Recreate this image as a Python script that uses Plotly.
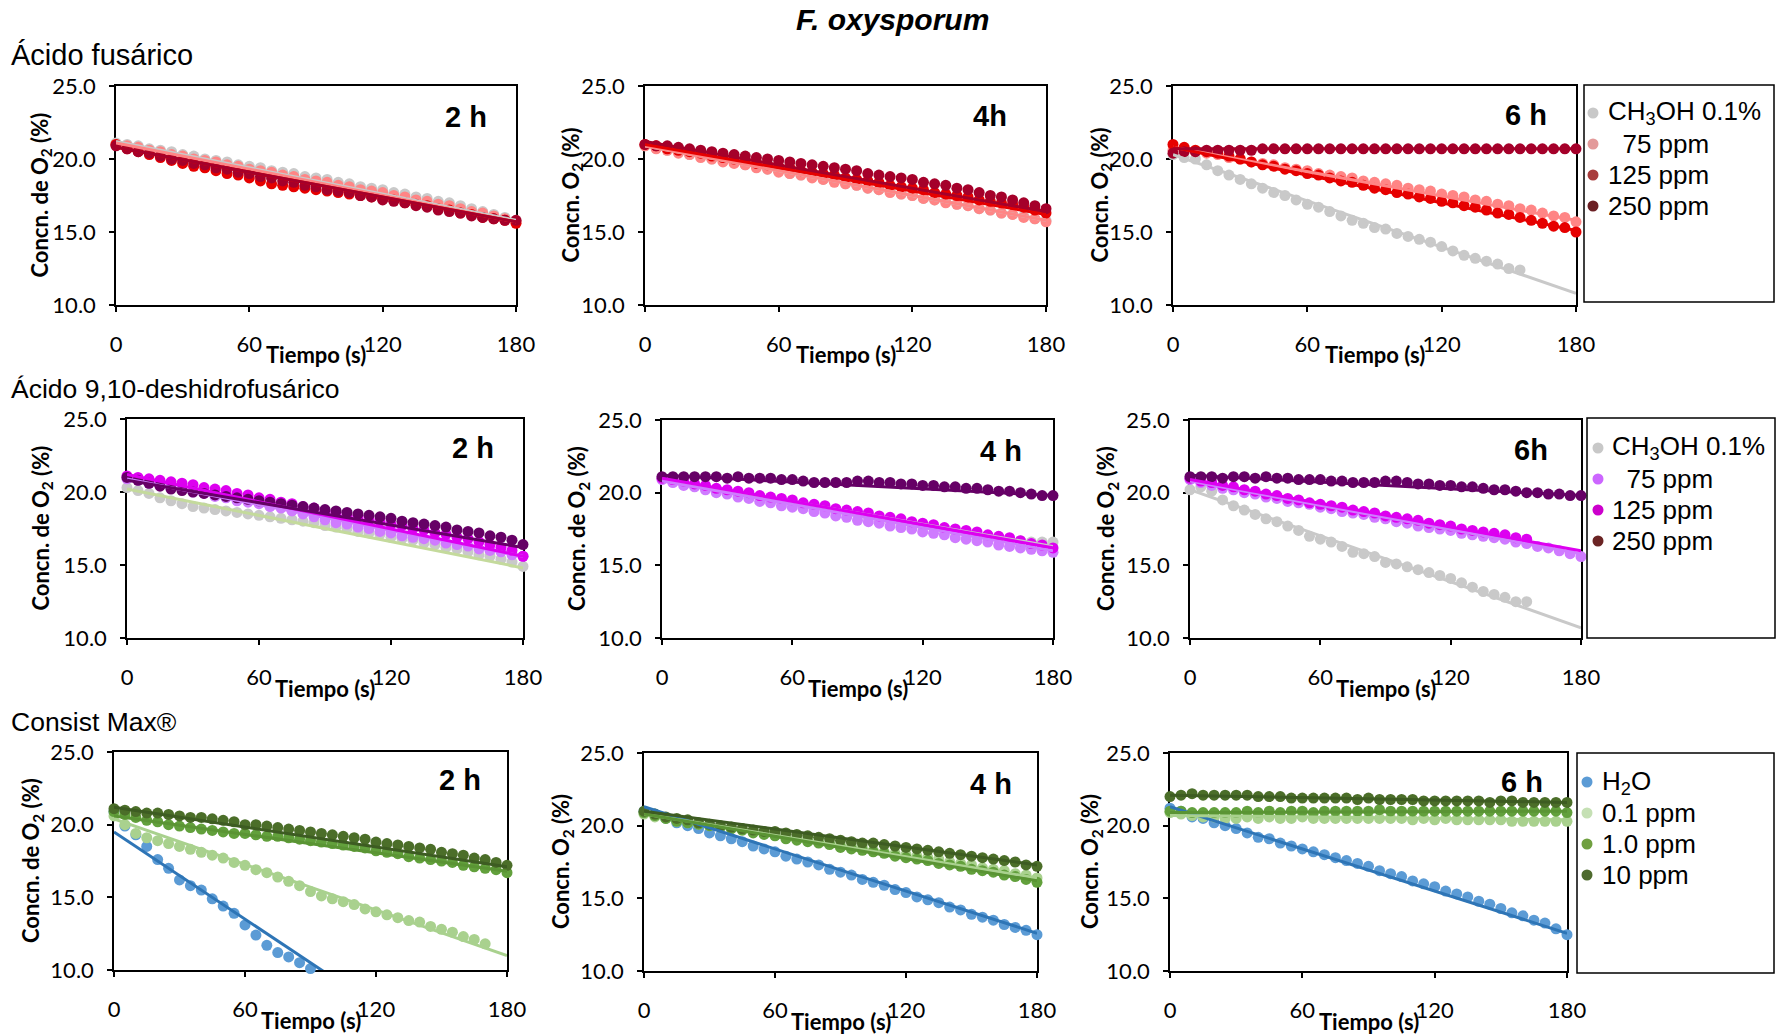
import plotly.graph_objects as go

W, H = 1777, 1035

# Sampling times (s) and axis ticks
t = list(range(0, 181, 5))
x_ticks = [0, 60, 120, 180]
y_ticks = [10, 15, 20, 25]

# ---------------- Ácido fusárico ----------------
fa2_ch3oh = [21.1, 21.0, 20.9, 20.7, 20.6, 20.5, 20.3, 20.2, 20.0, 19.9, 19.8, 19.6, 19.5, 19.4, 19.2, 19.1, 19.0, 18.8, 18.7,
             18.6, 18.4, 18.3, 18.1, 18.0, 17.9, 17.7, 17.6, 17.4, 17.3, 17.1, 17.0, 16.8, 16.6, 16.4, 16.2, 16.0, 15.8]
fa2_75 = [21.0, 20.9, 20.8, 20.6, 20.5, 20.3, 20.2, 20.0, 19.9, 19.8, 19.6, 19.5, 19.3, 19.2, 19.1, 18.9, 18.8, 18.6, 18.5,
          18.4, 18.2, 18.1, 17.9, 17.8, 17.7, 17.5, 17.4, 17.2, 17.1, 16.9, 16.8, 16.6, 16.4, 16.3, 16.1, 15.9, 15.7]
fa2_125 = [21.0, 20.7, 20.5, 20.3, 20.1, 19.9, 19.7, 19.5, 19.4, 19.2, 19.0, 18.9, 18.7, 18.5, 18.3, 18.2, 18.1, 18.0, 17.9,
           17.8, 17.7, 17.6, 17.5, 17.4, 17.3, 17.2, 17.0, 16.9, 16.8, 16.6, 16.5, 16.3, 16.2, 16.0, 15.9, 15.8, 15.6]
fa2_250 = [20.9, 20.7, 20.5, 20.4, 20.2, 20.0, 19.9, 19.7, 19.6, 19.4, 19.3, 19.1, 19.0, 18.8, 18.7, 18.5, 18.4, 18.2, 18.1,
           17.9, 17.8, 17.7, 17.5, 17.4, 17.2, 17.1, 17.0, 16.8, 16.7, 16.5, 16.4, 16.3, 16.1, 16.0, 15.9, 15.8, 15.8]
fa2_fits = [[21.2, 15.8], [21.1, 15.7], [20.8, 15.7], [20.8, 15.7]]

fa4_ch3oh = [20.9, 20.8, 20.6, 20.5, 20.3, 20.2, 20.0, 19.9, 19.8, 19.6, 19.5, 19.3, 19.2, 19.0, 18.9, 18.8, 18.6, 18.5, 18.3,
             18.2, 18.0, 17.9, 17.8, 17.6, 17.5, 17.3, 17.2, 17.1, 16.9, 16.8, 16.6, 16.5, 16.3, 16.2, 16.1, 15.9, 15.8]
fa4_75 = [20.9, 20.7, 20.6, 20.4, 20.3, 20.1, 20.0, 19.8, 19.7, 19.6, 19.4, 19.3, 19.1, 19.0, 18.9, 18.7, 18.6, 18.4, 18.3,
          18.2, 18.0, 17.9, 17.7, 17.6, 17.5, 17.3, 17.2, 17.0, 16.9, 16.8, 16.6, 16.5, 16.3, 16.2, 16.0, 15.9, 15.7]
fa4_125 = [21.0, 20.9, 20.7, 20.6, 20.5, 20.4, 20.2, 20.1, 20.0, 19.9, 19.7, 19.6, 19.5, 19.4, 19.2, 19.1, 19.0, 18.9, 18.7,
           18.6, 18.5, 18.4, 18.2, 18.1, 18.0, 17.9, 17.7, 17.6, 17.5, 17.4, 17.2, 17.1, 17.0, 16.9, 16.7, 16.5, 16.3]
fa4_250 = [21.0, 20.9, 20.9, 20.8, 20.7, 20.6, 20.5, 20.4, 20.3, 20.2, 20.1, 20.0, 19.9, 19.8, 19.7, 19.6, 19.5, 19.4, 19.3,
           19.2, 19.0, 18.9, 18.8, 18.7, 18.6, 18.4, 18.3, 18.2, 18.0, 17.9, 17.7, 17.5, 17.4, 17.2, 17.0, 16.8, 16.6]
fa4_fits = [[20.9, 15.8], [20.9, 15.8], [21.0, 16.2], [21.2, 16.4]]

fa6_ch3oh = [20.3, 20.1, 20.0, 19.6, 19.2, 18.9, 18.6, 18.3, 18.0, 17.7, 17.5, 17.2, 16.9, 16.7, 16.4, 16.1, 15.8, 15.6, 15.3,
             15.2, 14.9, 14.7, 14.5, 14.3, 14.0, 13.7, 13.4, 13.2, 13.0, 12.8, 12.5, 12.4]
fa6_75 = [20.6, 20.6, 20.5, 20.4, 20.3, 20.1, 20.0, 19.8, 19.7, 19.6, 19.4, 19.3, 19.2, 19.0, 18.9, 18.8, 18.7, 18.5, 18.4,
          18.3, 18.2, 18.0, 17.9, 17.8, 17.6, 17.5, 17.4, 17.2, 17.1, 16.9, 16.8, 16.6, 16.5, 16.3, 16.1, 16.0, 15.7]
fa6_125 = [21.0, 20.8, 20.6, 20.5, 20.4, 20.2, 20.0, 19.8, 19.6, 19.5, 19.3, 19.2, 19.0, 18.9, 18.7, 18.5, 18.4, 18.2, 18.0,
           17.9, 17.7, 17.6, 17.4, 17.3, 17.1, 17.0, 16.8, 16.7, 16.5, 16.3, 16.2, 16.0, 15.8, 15.6, 15.4, 15.3, 15.0]
fa6_250 = [20.4, 20.5, 20.5, 20.6, 20.6, 20.6, 20.6, 20.6, 20.7, 20.7, 20.7, 20.7, 20.7, 20.7, 20.7, 20.7, 20.7, 20.7, 20.7,
           20.7, 20.7, 20.7, 20.7, 20.7, 20.7, 20.7, 20.7, 20.7, 20.7, 20.7, 20.7, 20.7, 20.7, 20.7, 20.7, 20.7, 20.7]
fa6_fits = [[20.3, 10.8], [20.8, 15.8], [20.8, 15.1], [20.7, 20.7]]

# ---------------- Ácido 9,10-deshidrofusárico ----------------
dh2_ch3oh = [20.3, 20.1, 19.9, 19.6, 19.4, 19.2, 19.0, 18.9, 18.8, 18.7, 18.6, 18.5, 18.4, 18.3, 18.2, 18.1, 18.0, 17.9, 17.7,
             17.6, 17.5, 17.3, 17.2, 17.1, 16.9, 16.8, 16.7, 16.5, 16.4, 16.2, 16.1, 15.9, 15.7, 15.6, 15.4, 15.2, 14.9]
dh2_75 = [20.9, 20.8, 20.6, 20.5, 20.3, 20.2, 20.0, 19.9, 19.7, 19.6, 19.4, 19.3, 19.2, 19.0, 18.9, 18.7, 18.5, 18.3, 18.1,
          17.9, 17.8, 17.6, 17.5, 17.3, 17.2, 17.0, 16.9, 16.8, 16.7, 16.5, 16.4, 16.3, 16.1, 16.0, 15.9, 15.7, 15.6]
dh2_125 = [21.1, 21.0, 20.9, 20.8, 20.7, 20.6, 20.5, 20.3, 20.2, 20.1, 19.9, 19.8, 19.6, 19.5, 19.3, 19.2, 19.0, 18.9, 18.7,
           18.6, 18.4, 18.3, 18.1, 18.0, 17.8, 17.7, 17.5, 17.4, 17.2, 17.1, 16.9, 16.8, 16.6, 16.4, 16.2, 16.0, 15.6]
dh2_250 = [21.0, 20.8, 20.6, 20.4, 20.2, 20.1, 20.0, 19.9, 19.8, 19.7, 19.6, 19.5, 19.4, 19.3, 19.2, 19.1, 19.0, 18.9, 18.8,
           18.7, 18.6, 18.5, 18.4, 18.3, 18.2, 18.0, 17.9, 17.8, 17.7, 17.6, 17.4, 17.3, 17.2, 17.0, 16.9, 16.7, 16.4]
dh2_fits = [[20.2, 14.8], [20.9, 15.6], [21.2, 15.6], [20.8, 16.2]]

dh4_ch3oh = [21.0, 20.8, 20.7, 20.5, 20.4, 20.2, 20.1, 20.0, 19.8, 19.7, 19.5, 19.4, 19.3, 19.1, 19.0, 18.9, 18.7, 18.6, 18.5,
             18.3, 18.2, 18.1, 17.9, 17.8, 17.7, 17.6, 17.4, 17.3, 17.2, 17.1, 17.0, 16.9, 16.8, 16.7, 16.6, 16.6, 16.6]
dh4_75 = [20.9, 20.7, 20.5, 20.4, 20.2, 20.0, 19.9, 19.7, 19.6, 19.4, 19.3, 19.1, 19.0, 18.9, 18.7, 18.6, 18.4, 18.3, 18.1,
          18.0, 17.9, 17.7, 17.6, 17.5, 17.3, 17.2, 17.1, 16.9, 16.8, 16.7, 16.6, 16.4, 16.3, 16.2, 16.1, 16.0, 15.9]
dh4_125 = [21.0, 20.9, 20.8, 20.6, 20.5, 20.3, 20.2, 20.1, 20.0, 19.8, 19.7, 19.6, 19.5, 19.3, 19.2, 19.1, 18.9, 18.8, 18.7,
           18.6, 18.4, 18.3, 18.2, 18.0, 17.9, 17.8, 17.6, 17.5, 17.4, 17.3, 17.1, 17.0, 16.9, 16.7, 16.5, 16.4, 16.2]
dh4_250 = [21.1, 21.1, 21.1, 21.1, 21.1, 21.1, 21.0, 21.1, 21.0, 21.0, 21.0, 20.9, 20.9, 20.8, 20.7, 20.7, 20.7, 20.7, 20.8,
           20.8, 20.7, 20.7, 20.6, 20.6, 20.5, 20.5, 20.4, 20.4, 20.3, 20.3, 20.2, 20.1, 20.1, 20.0, 19.9, 19.8, 19.8]
dh4_fits = [[20.9, 16.3], [20.8, 16.0], [21.0, 16.2], [21.2, 19.8]]

dh6_ch3oh = [20.2, 20.4, 20.1, 19.5, 19.1, 18.8, 18.5, 18.2, 18.0, 17.7, 17.4, 17.0, 16.8, 16.6, 16.3, 15.9, 15.8, 15.6, 15.2,
             15.1, 14.9, 14.7, 14.5, 14.3, 14.1, 13.8, 13.5, 13.2, 13.0, 12.8, 12.5, 12.5]
dh6_75 = [20.9, 20.7, 20.5, 20.3, 20.2, 20.0, 19.9, 19.7, 19.6, 19.4, 19.3, 19.2, 19.0, 18.9, 18.7, 18.6, 18.5, 18.3, 18.2,
          18.0, 17.9, 17.7, 17.6, 17.5, 17.4, 17.2, 17.1, 17.0, 16.9, 16.8, 16.6, 16.5, 16.3, 16.2, 16.0, 15.8, 15.6]
dh6_125 = [21.0, 20.8, 20.7, 20.5, 20.4, 20.2, 20.1, 19.9, 19.8, 19.6, 19.5, 19.3, 19.2, 19.1, 19.0, 18.8, 18.7, 18.6, 18.4,
           18.3, 18.2, 18.1, 17.9, 17.8, 17.7, 17.5, 17.4, 17.3, 17.2, 17.1, 16.9, 16.8]
dh6_250 = [21.1, 21.1, 21.1, 21.0, 21.1, 21.1, 21.0, 21.1, 21.0, 21.0, 20.9, 20.9, 20.9, 20.8, 20.8, 20.7, 20.7, 20.7, 20.8,
           20.8, 20.7, 20.6, 20.6, 20.5, 20.5, 20.4, 20.4, 20.3, 20.2, 20.2, 20.1, 20.0, 20.0, 19.9, 19.9, 19.8, 19.8]
dh6_fits = [[20.2, 10.7], [20.8, 15.8], [20.9, 16.0], [21.2, 19.8]]

# ---------------- Consist Max® ----------------
cm2_h2o = [20.9, 19.9, 19.3, 18.5, 17.6, 17.0, 16.2, 15.8, 15.5, 14.9, 14.4, 13.9, 13.1, 12.4, 11.7, 11.2, 10.9, 10.5, 10.1]
cm2_01 = [20.6, 20.0, 19.4, 19.1, 18.9, 18.7, 18.5, 18.3, 18.1, 17.9, 17.7, 17.4, 17.2, 16.9, 16.7, 16.4, 16.1, 15.8, 15.4,
          15.1, 14.9, 14.7, 14.5, 14.2, 14.0, 13.8, 13.6, 13.4, 13.3, 13.0, 12.8, 12.6, 12.3, 12.1, 11.8]
cm2_1 = [20.9, 20.7, 20.5, 20.3, 20.2, 20.0, 19.9, 19.8, 19.7, 19.6, 19.5, 19.4, 19.4, 19.3, 19.2, 19.2, 19.1, 19.0, 18.9,
         18.8, 18.7, 18.6, 18.5, 18.4, 18.2, 18.1, 18.0, 17.8, 17.7, 17.6, 17.5, 17.4, 17.2, 17.1, 17.0, 16.9, 16.7]
cm2_10 = [21.1, 21.0, 20.9, 20.8, 20.8, 20.7, 20.6, 20.5, 20.5, 20.4, 20.3, 20.2, 20.0, 20.0, 19.9, 19.8, 19.7, 19.6, 19.5,
          19.4, 19.3, 19.2, 19.1, 19.0, 18.8, 18.7, 18.6, 18.5, 18.4, 18.3, 18.1, 18.0, 17.9, 17.7, 17.6, 17.4, 17.2]
cm2_fits = [[19.5, 1.5], [20.4, 11.0], [20.6, 16.8], [21.2, 17.1]]

cm4_h2o = [21.0, 20.8, 20.5, 20.2, 20.0, 19.8, 19.5, 19.3, 19.1, 18.9, 18.6, 18.4, 18.2, 17.9, 17.7, 17.5, 17.3, 17.0, 16.8,
           16.6, 16.3, 16.1, 15.9, 15.6, 15.4, 15.1, 14.9, 14.7, 14.4, 14.2, 13.9, 13.7, 13.5, 13.2, 13.0, 12.8, 12.5]
cm4_01 = [20.8, 20.6, 20.5, 20.3, 20.2, 20.1, 20.0, 19.9, 19.8, 19.7, 19.6, 19.5, 19.4, 19.3, 19.1, 19.0, 18.9, 18.8, 18.7,
          18.6, 18.5, 18.3, 18.2, 18.1, 18.0, 17.9, 17.8, 17.7, 17.5, 17.4, 17.3, 17.1, 17.0, 16.9, 16.7, 16.6, 16.4]
cm4_1 = [20.9, 20.7, 20.5, 20.3, 20.2, 20.1, 20.0, 19.9, 19.8, 19.7, 19.5, 19.4, 19.3, 19.1, 19.0, 18.9, 18.8, 18.7, 18.5,
         18.4, 18.3, 18.2, 18.1, 17.9, 17.8, 17.7, 17.6, 17.4, 17.3, 17.2, 17.0, 16.9, 16.8, 16.6, 16.5, 16.3, 16.1]
cm4_10 = [21.0, 20.8, 20.6, 20.5, 20.4, 20.2, 20.1, 20.0, 19.9, 19.8, 19.7, 19.6, 19.6, 19.5, 19.4, 19.3, 19.2, 19.1, 19.0,
          18.9, 18.8, 18.8, 18.7, 18.6, 18.5, 18.4, 18.3, 18.2, 18.1, 18.0, 17.9, 17.8, 17.7, 17.6, 17.5, 17.3, 17.2]
cm4_fits = [[21.3, 12.6], [20.8, 16.4], [20.8, 16.2], [21.0, 17.3]]

cm6_h2o = [21.2, 21.0, 20.6, 20.5, 20.2, 20.0, 19.8, 19.5, 19.2, 19.1, 18.8, 18.6, 18.4, 18.2, 18.0, 17.8, 17.6, 17.4, 17.2,
           16.9, 16.7, 16.5, 16.2, 16.0, 15.8, 15.5, 15.3, 15.1, 14.8, 14.6, 14.3, 14.0, 13.8, 13.5, 13.3, 12.9, 12.5]
cm6_01 = [20.9, 20.8, 20.7, 20.6, 20.6, 20.5, 20.5, 20.6, 20.5, 20.6, 20.5, 20.5, 20.6, 20.5, 20.5, 20.5, 20.5, 20.5, 20.5,
          20.5, 20.5, 20.5, 20.4, 20.5, 20.4, 20.5, 20.4, 20.4, 20.4, 20.4, 20.4, 20.3, 20.3, 20.3, 20.3, 20.3, 20.3]
cm6_1 = [21.0, 21.0, 20.9, 20.9, 20.9, 20.9, 20.9, 21.0, 20.9, 21.0, 20.9, 21.0, 21.0, 20.9, 21.0, 21.0, 21.0, 21.0, 21.0,
         21.1, 21.0, 21.0, 21.0, 21.0, 21.0, 21.0, 21.0, 21.0, 21.0, 21.0, 21.0, 21.0, 21.0, 21.0, 21.0, 21.0, 20.9]
cm6_10 = [22.0, 22.1, 22.2, 22.1, 22.1, 22.1, 22.1, 22.1, 22.0, 22.0, 22.0, 21.9, 21.9, 21.9, 21.9, 21.9, 21.9, 21.8, 21.9,
          21.8, 21.8, 21.8, 21.8, 21.7, 21.7, 21.7, 21.7, 21.7, 21.7, 21.6, 21.7, 21.7, 21.6, 21.6, 21.6, 21.6, 21.6]
cm6_fits = [[21.3, 12.6], [20.7, 20.4], [20.9, 21.0], [22.1, 21.6]]

# Key labels per block
fa_labels = ["CH<sub>3</sub>OH 0.1%", "\u00a0\u00a075 ppm", "125 ppm", "250 ppm"]
dh_labels = ["CH<sub>3</sub>OH 0.1%", "\u00a0\u00a075 ppm", "125 ppm", "250 ppm"]
cm_labels = ["H<sub>2</sub>O", "0.1 ppm", "1.0 ppm", "10 ppm"]

# ---------------- styling ----------------
SANS = "Liberation Sans, Arial, sans-serif"
TICKF = "Lato, Liberation Sans, sans-serif"

fa_pt = ["#C9C9C9", "#FF8585", "#E60000", "#A5002A"]
fa_ln = ["#C9C9C9", "#FF8585", "#E60000", "#A5002A"]
fa_key = ["#C8C8C8", "#E39A9A", "#A83C3C", "#6B1F24"]

dh_pt = ["#C9C9C9", "#CF7BFF", "#DD00F0", "#660066"]
dh_key = ["#C8C8C8", "#CC66FF", "#CC00CC", "#6B2424"]

cm_pt = ["#5B9BD5", "#A9D18E", "#62A03C", "#4B6E29"]
cm_ln = ["#2E75B6", "#A9D18E", "#5A9434", "#3D5C22"]
cm_key = ["#5B9BD5", "#C5E0B4", "#70A040", "#4E6B2E"]


def fx(px):
    return px / W


def fy(py):
    return 1 - py / H


# panel pixel boxes: (left, right, top, bottom)
panels = [
    dict(box=(116, 516, 86, 305), series=[fa2_ch3oh, fa2_75, fa2_125, fa2_250], fits=fa2_fits,
         pt=fa_pt, ln=fa_ln, tag="2 h", tag_xy=(466, 117), ytitle="Concn. de O<sub>2</sub> (%)", yoff=76),
    dict(box=(645, 1046, 86, 305), series=[fa4_ch3oh, fa4_75, fa4_125, fa4_250], fits=fa4_fits,
         pt=fa_pt, ln=fa_ln, tag="4h", tag_xy=(990, 116), ytitle="Concn. O<sub>2</sub> (%)", yoff=74),
    dict(box=(1173, 1576, 86, 305), series=[fa6_ch3oh, fa6_75, fa6_125, fa6_250], fits=fa6_fits,
         pt=fa_pt, ln=fa_ln, tag="6 h", tag_xy=(1526, 115), ytitle="Concn. O<sub>2</sub> (%)", yoff=73),
    dict(box=(127, 523, 419, 638), series=[dh2_ch3oh, dh2_75, dh2_125, dh2_250], fits=dh2_fits,
         pt=dh_pt, ln=["#C4DA9C", "#CF7BFF", "#DD00F0", "#660066"], tag="2 h", tag_xy=(473, 448),
         ytitle="Concn. de O<sub>2</sub> (%)", yoff=86),
    dict(box=(662, 1053, 420, 638), series=[dh4_ch3oh, dh4_75, dh4_125, dh4_250], fits=dh4_fits,
         pt=dh_pt, ln=["#C9C9C9", "#CF7BFF", "#DD00F0", "#660066"], tag="4 h", tag_xy=(1001, 451),
         ytitle="Concn. de O<sub>2</sub> (%)", yoff=84),
    dict(box=(1190, 1581, 420, 638), series=[dh6_ch3oh, dh6_75, dh6_125, dh6_250], fits=dh6_fits,
         pt=dh_pt, ln=["#C9C9C9", "#CF7BFF", "#DD00F0", "#660066"], tag="6h", tag_xy=(1531, 450),
         ytitle="Concn. de O<sub>2</sub> (%)", yoff=83),
    dict(box=(114, 507, 752, 970), series=[cm2_h2o, cm2_01, cm2_1, cm2_10], fits=cm2_fits,
         pt=cm_pt, ln=cm_ln, tag="2 h", tag_xy=(460, 780), ytitle="Concn. de O<sub>2</sub> (%)", yoff=82),
    dict(box=(644, 1037, 753, 971), series=[cm4_h2o, cm4_01, cm4_1, cm4_10], fits=cm4_fits,
         pt=cm_pt, ln=cm_ln, tag="4 h", tag_xy=(991, 784), ytitle="Concn. O<sub>2</sub> (%)", yoff=82),
    dict(box=(1170, 1567, 753, 971), series=[cm6_h2o, cm6_01, cm6_1, cm6_10], fits=cm6_fits,
         pt=cm_pt, ln=cm_ln, tag="6 h", tag_xy=(1522, 782), ytitle="Concn. O<sub>2</sub> (%)", yoff=79),
]

fig = go.Figure()
annotations = []
shapes = []
layout_axes = {}

axis_common = dict(
    ticks="outside", ticklen=5, tickwidth=1.5, tickcolor="black",
    showline=True, linecolor="black", linewidth=1.5, mirror=True,
    showgrid=False, zeroline=False, layer="below traces", automargin=False,
    tickfont=dict(family=TICKF, size=22, color="black"),
)

for i, p in enumerate(panels):
    n = "" if i == 0 else str(i + 1)
    xa, ya = "x" + n, "y" + n
    left, right, top, bottom = p["box"]
    layout_axes["xaxis" + n] = dict(
        domain=[fx(left), fx(right)], range=[0, 180], anchor=ya, tickvals=x_ticks,
        ticklabelstandoff=14, **axis_common,
    )
    layout_axes["yaxis" + n] = dict(
        domain=[fy(bottom), fy(top)], range=[10, 25], anchor=xa, tickvals=y_ticks, tickformat=".1f",
        ticklabelstandoff=9, **axis_common,
    )

    # measured points
    for vals, col in zip(p["series"], p["pt"]):
        fig.add_trace(go.Scatter(
            x=t[:len(vals)], y=vals, mode="markers", xaxis=xa, yaxis=ya,
            marker=dict(color=col, size=11, line=dict(width=0)),
            cliponaxis=False, showlegend=False, hoverinfo="skip",
        ))
    # linear trend lines
    for fit, col in zip(p["fits"], p["ln"]):
        fig.add_trace(go.Scatter(
            x=[0, 180], y=fit, mode="lines", xaxis=xa, yaxis=ya,
            line=dict(color=col, width=3), showlegend=False, hoverinfo="skip",
        ))

    # panel time tag
    annotations.append(dict(
        x=fx(p["tag_xy"][0]), y=fy(p["tag_xy"][1]), xref="paper", yref="paper",
        text="<b>%s</b>" % p["tag"], showarrow=False, xanchor="center", yanchor="middle",
        font=dict(family=SANS, size=29, color="black"),
    ))
    # axis titles
    annotations.append(dict(
        x=fx((left + right) / 2), y=fy(bottom + 50), xref="paper", yref="paper",
        text="<b>Tiempo (s)</b>", showarrow=False, xanchor="center", yanchor="middle",
        font=dict(family=TICKF, size=22, color="black"),
    ))
    annotations.append(dict(
        x=fx(left - p["yoff"]), y=fy((top + bottom) / 2), xref="paper", yref="paper",
        text="<b>%s</b>" % p["ytitle"], showarrow=False, xanchor="center", yanchor="middle",
        textangle=-90, font=dict(family=TICKF, size=22, color="black"),
    ))

# boxed keys: frame, marker column x, label x, first row y, row pitch
keys = [
    (fa_labels, fa_key, (1584, 1774, 85, 302), 1593, 1606, 113, 31),
    (dh_labels, dh_key, (1587, 1775, 418, 638), 1598, 1610, 448, 31),
    (cm_labels, cm_key, (1577, 1774, 753, 973), 1587, 1600, 782, 31),
]
for labels, cols, (l, r, tp, bt), mx, tx, y0, dy in keys:
    shapes.append(dict(type="rect", xref="paper", yref="paper", x0=fx(l), x1=fx(r), y0=fy(bt), y1=fy(tp),
                       line=dict(color="black", width=1.5), fillcolor="rgba(0,0,0,0)"))
    for k, (lab, col) in enumerate(zip(labels, cols)):
        cy = y0 + k * dy
        shapes.append(dict(type="circle", xref="paper", yref="paper", xsizemode="pixel", ysizemode="pixel",
                           xanchor=fx(mx), yanchor=fy(cy), x0=-5.5, x1=5.5, y0=-5.5, y1=5.5,
                           fillcolor=col, line=dict(width=0)))
        annotations.append(dict(x=fx(tx), y=fy(cy), xref="paper", yref="paper", text=lab, showarrow=False,
                                xanchor="left", yanchor="middle", font=dict(family=SANS, size=26, color="black")))

# section headings and main title
annotations += [
    dict(x=fx(892), y=fy(20), xref="paper", yref="paper", text="<b><i>F. oxysporum</i></b>",
         showarrow=False, xanchor="center", yanchor="middle", font=dict(family=SANS, size=30, color="black")),
    dict(x=fx(9), y=fy(55), xref="paper", yref="paper", text="Ácido fusárico",
         showarrow=False, xanchor="left", yanchor="middle", font=dict(family=SANS, size=29, color="black")),
    dict(x=fx(9), y=fy(389), xref="paper", yref="paper", text="Ácido 9,10-deshidrofusárico",
         showarrow=False, xanchor="left", yanchor="middle", font=dict(family=SANS, size=26.5, color="black")),
    dict(x=fx(9), y=fy(722), xref="paper", yref="paper", text="Consist Max®",
         showarrow=False, xanchor="left", yanchor="middle", font=dict(family=SANS, size=26.5, color="black")),
]

fig.update_layout(
    width=W, height=H, margin=dict(l=0, r=0, t=0, b=0, pad=0, autoexpand=False),
    paper_bgcolor="white", plot_bgcolor="white", showlegend=False,
    annotations=annotations, shapes=shapes,
    **layout_axes,
)

# page body without default margin so the figure fills the window exactly
fig.write_html("out.html", post_script="document.body.style.margin='0';")
